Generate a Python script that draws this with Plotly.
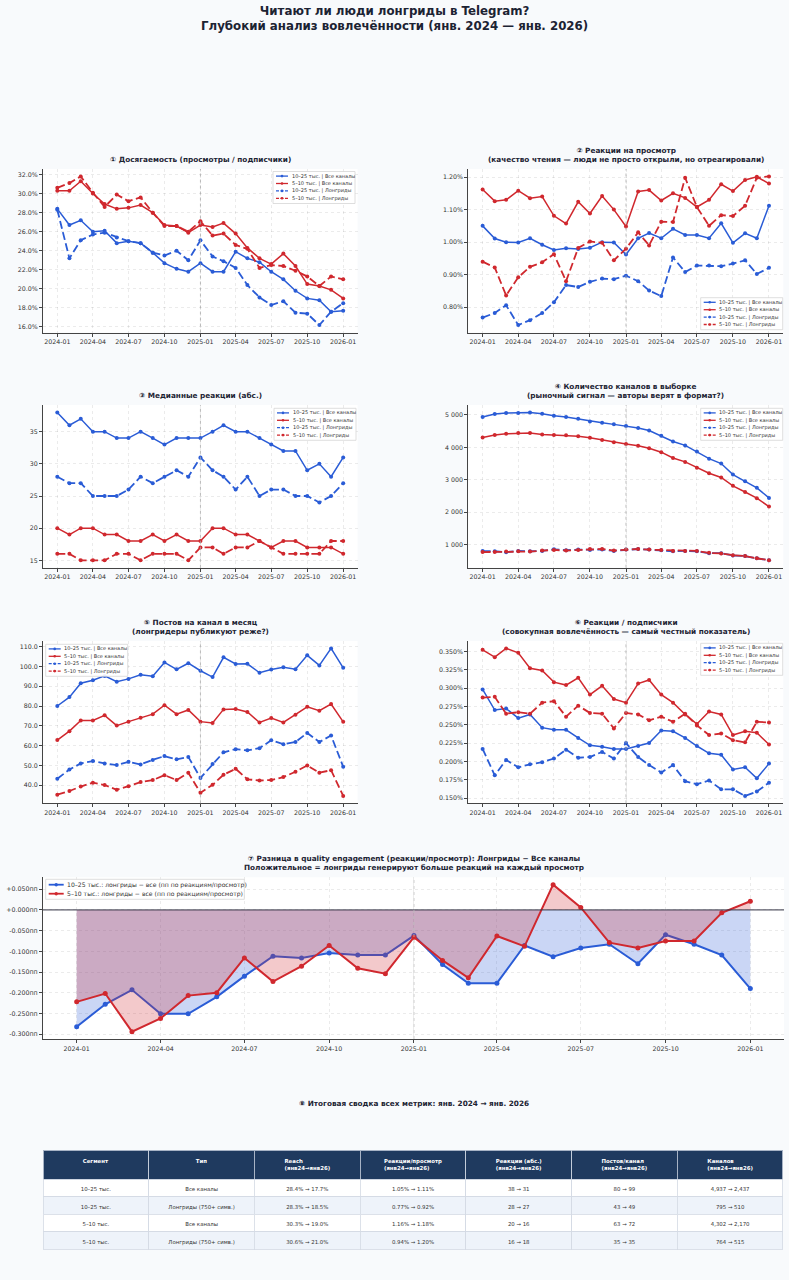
import plotly.graph_objects as go

W, H = 789, 1280

months = [f"{2024 + i // 12}-{i % 12 + 1:02d}-01" for i in range(25)]

names = ["10–25 тыс. | Все каналы", "5–10 тыс. | Все каналы",
         "10–25 тыс. | Лонгриды", "5–10 тыс. | Лонгриды"]

# ① reach, % (views / subscribers)
reach_big_all = [28.4, 26.7, 27.2, 26.0, 26.1, 24.8, 25.0, 24.8, 23.8, 22.7, 22.1, 21.8, 22.7,
                 21.8, 21.8, 23.9, 23.2, 22.8, 21.8, 21.0, 19.8, 19.0, 18.8, 17.6, 17.7]
reach_small_all = [30.3, 30.3, 31.3, 30.0, 28.9, 28.4, 28.5, 28.8, 28.0, 26.7, 26.6, 25.9, 26.7,
                   26.5, 26.9, 25.8, 24.3, 23.2, 22.6, 23.7, 22.4, 20.5, 20.3, 19.9, 19.0]
reach_big_long = [28.3, 23.2, 25.1, 25.7, 25.9, 25.4, 25.0, 24.8, 23.8, 23.5, 24.0, 23.0, 25.1,
                  23.4, 22.9, 22.2, 20.4, 19.1, 18.3, 18.7, 17.5, 17.4, 16.2, 17.6, 18.5]
reach_small_long = [30.6, 31.1, 31.8, 30.1, 28.6, 29.9, 29.2, 29.6, 28.0, 26.6, 26.6, 26.0, 27.1,
                    25.6, 25.8, 24.6, 24.2, 22.2, 22.5, 22.4, 21.9, 21.3, 20.3, 21.3, 21.0]

# ② reactions per view, %
rpv_big_all = [1.050, 1.011, 1.000, 0.999, 1.012, 0.992, 0.976, 0.981, 0.979, 0.983, 1.000, 0.999, 0.962,
               1.012, 1.028, 1.012, 1.041, 1.022, 1.022, 1.012, 1.058, 0.998, 1.027, 1.012, 1.112]
rpv_small_all = [1.162, 1.126, 1.130, 1.158, 1.135, 1.140, 1.081, 1.057, 1.124, 1.088, 1.142, 1.100, 1.048,
                 1.156, 1.160, 1.128, 1.150, 1.136, 1.108, 1.130, 1.178, 1.157, 1.191, 1.201, 1.180]
rpv_big_long = [0.768, 0.782, 0.806, 0.745, 0.760, 0.782, 0.815, 0.868, 0.862, 0.878, 0.888, 0.886, 0.897,
                0.880, 0.851, 0.834, 0.953, 0.908, 0.928, 0.928, 0.926, 0.934, 0.944, 0.902, 0.921]
rpv_small_long = [0.940, 0.922, 0.836, 0.892, 0.924, 0.938, 0.963, 0.880, 0.982, 1.002, 0.998, 0.944, 0.980,
                  1.030, 0.990, 1.063, 1.062, 1.198, 1.108, 1.050, 1.083, 1.080, 1.112, 1.198, 1.202]

# ③ median reactions
med_big_all = [38, 36, 37, 35, 35, 34, 34, 35, 34, 33, 34, 34, 34, 35, 36, 35, 35, 34, 33, 32, 32, 29, 30, 28, 31]
med_small_all = [20, 19, 20, 20, 19, 19, 18, 18, 19, 18, 19, 18, 18, 20, 20, 19, 19, 18, 17, 18, 18, 17, 17, 17, 16]
med_big_long = [28, 27, 27, 25, 25, 25, 26, 28, 27, 28, 29, 28, 31, 29, 28, 26, 28, 25, 26, 26, 25, 25, 24, 25, 27]
med_small_long = [16, 16, 15, 15, 15, 16, 16, 15, 16, 16, 16, 15, 17, 17, 16, 17, 17, 18, 17, 16, 16, 16, 16, 18, 18]

# ④ channels in sample
ch_big_all = [4937, 5030, 5060, 5065, 5080, 5040, 4975, 4940, 4880, 4800, 4760, 4710, 4660,
              4600, 4520, 4360, 4180, 4060, 3870, 3650, 3500, 3160, 2950, 2750, 2437]
ch_small_all = [4302, 4380, 4420, 4440, 4440, 4400, 4380, 4370, 4340, 4300, 4230, 4160, 4100,
                4050, 3970, 3850, 3670, 3550, 3370, 3200, 3070, 2810, 2620, 2430, 2170]
ch_big_long = [795, 790, 760, 800, 790, 800, 850, 820, 840, 830, 840, 800, 840,
               860, 840, 820, 790, 800, 790, 730, 730, 660, 640, 570, 510]
ch_small_long = [764, 770, 780, 790, 780, 810, 830, 810, 830, 860, 860, 810, 840,
                 860, 840, 830, 800, 800, 800, 740, 720, 670, 640, 570, 515]

# ⑤ posts per channel per month
posts_big_all = [80.0, 84.5, 91.5, 93.0, 95.2, 92.3, 93.7, 95.8, 95.0, 102.0, 98.5, 101.6, 97.8,
                 94.6, 104.6, 101.2, 101.3, 96.8, 98.4, 99.6, 98.6, 105.6, 100.5, 109.1, 99.3]
posts_small_all = [62.8, 67.3, 72.7, 72.7, 75.3, 70.1, 72.1, 74.1, 75.9, 80.4, 75.9, 78.0, 72.1,
                   71.4, 78.3, 78.5, 77.0, 71.7, 73.9, 71.7, 75.6, 79.6, 77.6, 81.0, 72.0]
posts_big_long = [43.3, 47.9, 51.0, 52.2, 51.0, 50.2, 51.8, 50.5, 52.8, 54.7, 53.1, 54.3, 43.7,
                  50.7, 56.6, 58.2, 57.6, 58.7, 62.7, 60.7, 61.8, 66.4, 61.8, 65.1, 49.3]
posts_small_long = [35.2, 37.1, 39.3, 41.3, 40.1, 37.7, 39.5, 41.6, 42.6, 45.1, 42.6, 46.3, 36.2,
                    40.2, 45.3, 48.3, 43.0, 42.4, 42.6, 44.1, 46.8, 50.0, 46.3, 47.6, 34.6]

# ⑥ reactions / subscribers, %
rps_big_all = [0.298, 0.270, 0.272, 0.259, 0.264, 0.246, 0.243, 0.243, 0.232, 0.222, 0.220, 0.217, 0.217,
               0.221, 0.225, 0.242, 0.241, 0.232, 0.221, 0.211, 0.209, 0.189, 0.192, 0.177, 0.197]
rps_small_all = [0.352, 0.342, 0.354, 0.348, 0.327, 0.324, 0.308, 0.304, 0.314, 0.291, 0.303, 0.285, 0.280,
                 0.306, 0.311, 0.291, 0.280, 0.264, 0.251, 0.268, 0.264, 0.236, 0.241, 0.239, 0.223]
rps_big_long = [0.217, 0.181, 0.202, 0.192, 0.196, 0.199, 0.204, 0.216, 0.205, 0.206, 0.213, 0.204, 0.225,
                0.206, 0.195, 0.185, 0.195, 0.173, 0.169, 0.174, 0.162, 0.162, 0.153, 0.159, 0.171]
rps_small_long = [0.287, 0.288, 0.265, 0.267, 0.265, 0.280, 0.282, 0.261, 0.276, 0.266, 0.265, 0.245, 0.266,
                  0.264, 0.256, 0.261, 0.254, 0.265, 0.249, 0.236, 0.238, 0.229, 0.226, 0.254, 0.253]

# ⑦ longreads minus all, pp of reactions/view
diff_big = [-0.282, -0.228, -0.193, -0.251, -0.251, -0.210, -0.160, -0.112, -0.116, -0.104, -0.109, -0.109, -0.062,
            -0.132, -0.177, -0.177, -0.086, -0.113, -0.092, -0.083, -0.130, -0.060, -0.083, -0.109, -0.190]
diff_small = [-0.222, -0.202, -0.294, -0.262, -0.207, -0.200, -0.116, -0.173, -0.136, -0.086, -0.141, -0.154, -0.066,
              -0.122, -0.164, -0.063, -0.088, 0.061, 0.006, -0.079, -0.092, -0.075, -0.075, -0.007, 0.021]
diff_ticks = [-0.30, -0.25, -0.20, -0.15, -0.10, -0.05, 0.00, 0.05]
diff_tick_labels = ["-0.300пп", "-0.250пп", "-0.200пп", "-0.150пп", "-0.100пп", "-0.050пп", "+0.000пп", "+0.050пп"]

seg_labels = ["10–25 тыс.", "10–25 тыс.", "5–10 тыс.", "5–10 тыс."]
type_labels = ["Все каналы", "Лонгриды (750+ симв.)", "Все каналы", "Лонгриды (750+ симв.)"]
table_headers = ["Сегмент", "Тип", "Reach<br>(янв24→янв26)", "Реакции/просмотр<br>(янв24→янв26)",
                 "Реакции (абс.)<br>(янв24→янв26)", "Постов/канал<br>(янв24→янв26)", "Каналов<br>(янв24→янв26)"]

BLUE = "#2A5CD6"
RED = "#D0282E"
BLUE_F = "rgba(42,92,214,0.25)"
RED_F = "rgba(208,40,46,0.25)"
AX = "#444444"
TXT = "#1C2333"
GRID = "rgba(0,0,0,0.08)"
FONT = "DejaVu Sans"
TF = dict(family=FONT, size=6.3, color="#333333")
BG = "#F8FAFC"

XR = ["2023-11-25 11:00", "2026-02-06 13:00"]


def px(x):
    return x / W


def py(y):
    return 1 - y / H


def rng(*arrs):
    lo = min(min(a) for a in arrs)
    hi = max(max(a) for a in arrs)
    pad = (hi - lo) * 0.05
    return [lo - pad, hi + pad]


fig = go.Figure()

# pixel boxes of each axes: left, right, top, bottom
boxes = {
    1: (43, 357.5, 169, 332.5),
    2: (468.3, 783.3, 169, 332.5),
    3: (43, 357.5, 405, 567.7),
    4: (468.3, 783.3, 405, 567.7),
    5: (43, 357.5, 641, 803.3),
    6: (468.3, 783.3, 641, 803.3),
    7: (43, 784, 877.3, 1039),
}

panels = [
    (1, [reach_big_all, reach_small_all, reach_big_long, reach_small_long],
     dict(dtick=2, tickformat=".1f", ticksuffix="%"),
     "<b>① Досягаемость (просмотры / подписчики)</b>"),
    (2, [rpv_big_all, rpv_small_all, rpv_big_long, rpv_small_long],
     dict(dtick=0.1, tickformat=".2f", ticksuffix="%"),
     "<b>② Реакции на просмотр</b><br><b>(качество чтения — люди не просто открыли, но отреагировали)</b>"),
    (3, [med_big_all, med_small_all, med_big_long, med_small_long],
     dict(dtick=5, tickformat="d"),
     "<b>③ Медианные реакции (абс.)</b>"),
    (4, [ch_big_all, ch_small_all, ch_big_long, ch_small_long],
     dict(dtick=1000, tickformat=",d"),
     "<b>④ Количество каналов в выборке</b><br><b>(рыночный сигнал — авторы верят в формат?)</b>"),
    (5, [posts_big_all, posts_small_all, posts_big_long, posts_small_long],
     dict(dtick=10, tickformat=".1f"),
     "<b>⑤ Постов на канал в месяц</b><br><b>(лонгридеры публикуют реже?)</b>"),
    (6, [rps_big_all, rps_small_all, rps_big_long, rps_small_long],
     dict(dtick=0.025, tickformat=".3f", ticksuffix="%"),
     "<b>⑥ Реакции / подписчики</b><br><b>(совокупная вовлечённость — самый честный показатель)</b>"),
]

styles = [(BLUE, "solid", 1.5), (RED, "solid", 1.5), (BLUE, "8px,3.5px", 1.8), (RED, "8px,3.5px", 1.8)]

layout_axes = {}


def axis_pair(k, yrange, yextra):
    l, r, t, b = boxes[k]
    sfx = "" if k == 1 else str(k)
    layout_axes["xaxis" + sfx] = dict(
        domain=[px(l), px(r)], anchor="y" + sfx, type="date", range=XR,
        tick0="2024-01-01", dtick="M3", tickformat="%Y-%m", automargin=False,
        showline=True, linecolor=AX, linewidth=1, ticks="outside", ticklen=3,
        tickwidth=0.8, tickcolor=AX, tickfont=TF, showgrid=True, gridcolor=GRID,
        griddash="dot", gridwidth=0.7, zeroline=False, fixedrange=True)
    ya = dict(
        domain=[py(b), py(t)], anchor="x" + sfx, range=yrange, automargin=False,
        showline=True, linecolor=AX, linewidth=1, ticks="outside", ticklen=3,
        tickwidth=0.8, tickcolor=AX, tickfont=TF, showgrid=True, gridcolor=GRID,
        griddash="dot", gridwidth=0.7, zeroline=False, fixedrange=True)
    ya.update(yextra)
    layout_axes["yaxis" + sfx] = ya
    return "x" + sfx, "y" + sfx


for k, series, yextra, title in panels:
    xr, yr = axis_pair(k, rng(*series), yextra)
    for s, nm, (c, d, w) in zip(series, names, styles):
        fig.add_trace(go.Scatter(x=months, y=s, name=nm, mode="lines+markers", xaxis=xr, yaxis=yr,
                                 line=dict(color=c, width=w, dash=d),
                                 marker=dict(color=c, size=4), showlegend=False))
    l, r, t, b = boxes[k]
    fig.add_shape(type="line", xref=xr, yref=yr + " domain", x0="2025-01-01", x1="2025-01-01",
                  y0=0, y1=1, line=dict(color="#A8A8A8", width=0.8, dash="dot"))
    fig.add_annotation(x=px((l + r) / 2), y=py(t - 3), xref="paper", yref="paper", text=title,
                       showarrow=False, xanchor="center", yanchor="bottom",
                       font=dict(family=FONT, size=7.3, color=TXT))

# ⑦ difference panel
xr7, yr7 = axis_pair(7, rng(diff_big, diff_small),
                     dict(tickmode="array", tickvals=diff_ticks, ticktext=diff_tick_labels))
diff_names = ["10–25 тыс.: лонгриды − все (пп по реакциям/просмотр)",
              "5–10 тыс.: лонгриды − все (пп по реакциям/просмотр)"]
for s, nm, c, f in [(diff_big, diff_names[0], BLUE, BLUE_F), (diff_small, diff_names[1], RED, RED_F)]:
    fig.add_trace(go.Scatter(x=months, y=s, name=nm, mode="lines+markers", xaxis=xr7, yaxis=yr7,
                             fill="tozeroy", fillcolor=f, line=dict(color=c, width=2),
                             marker=dict(color=c, size=5), showlegend=False))
fig.add_shape(type="line", xref=xr7 + " domain", yref=yr7, x0=0, x1=1, y0=0, y1=0,
              line=dict(color="#333344", width=1))
fig.add_shape(type="line", xref=xr7, yref=yr7 + " domain", x0="2025-01-01", x1="2025-01-01",
              y0=0, y1=1, line=dict(color="#BBBBBB", width=0.8, dash="dot"))
l7, r7, t7, b7 = boxes[7]
fig.add_annotation(x=px((l7 + r7) / 2), y=py(t7 - 3), xref="paper", yref="paper",
                   text="<b>⑦ Разница в quality engagement (реакции/просмотр): Лонгриды − Все каналы</b><br>"
                        "<b>Положительное = лонгриды генерируют больше реакций на каждый просмотр</b>",
                   showarrow=False, xanchor="center", yanchor="bottom",
                   font=dict(family=FONT, size=7.3, color=TXT))


def add_legend(x0, y0, w, h, first, step, hlen, toff, fs, lw, ms, entries):
    fig.add_shape(type="rect", xref="paper", yref="paper", x0=px(x0), x1=px(x0 + w),
                  y0=py(y0 + h), y1=py(y0), line=dict(color="#D6D6D6", width=0.8),
                  fillcolor="rgba(255,255,255,0.92)", layer="above")
    for i, (c, d, label) in enumerate(entries):
        yc = y0 + first + step * i
        hx0, hx1 = x0 + 3, x0 + 3 + hlen
        fig.add_shape(type="line", xref="paper", yref="paper", x0=px(hx0), x1=px(hx1),
                      y0=py(yc), y1=py(yc), line=dict(color=c, width=lw, dash=d), layer="above")
        xm = (hx0 + hx1) / 2
        fig.add_shape(type="circle", xref="paper", yref="paper", x0=px(xm - ms), x1=px(xm + ms),
                      y0=py(yc + ms), y1=py(yc - ms), fillcolor=c, line=dict(color=c, width=0),
                      layer="above")
        fig.add_annotation(x=px(x0 + toff), y=py(yc), xref="paper", yref="paper", text=label,
                           showarrow=False, xanchor="left", yanchor="middle",
                           font=dict(family=FONT, size=fs, color="#333333"))


small_entries = [(BLUE, "solid", names[0]), (RED, "solid", names[1]),
                 (BLUE, "3px,1.5px", names[2]), (RED, "3px,1.5px", names[3])]
for (lx, ly) in [(273, 171.5), (700.7, 297.7), (274, 408.3), (700.7, 408.3), (45.7, 644.3), (700.7, 643.3)]:
    add_legend(lx, ly, 82, 32, 4.6, 7.4, 12, 16.5, 5.0, 1.3, 1.3, small_entries)

add_legend(45.7, 879.3, 198.6, 20, 5.4, 9, 15, 19.5, 6.1, 1.8, 1.7,
           [(BLUE, "solid", diff_names[0]), (RED, "solid", diff_names[1])])

# ⑧ summary table
groups = [
    (reach_big_all, rpv_big_all, med_big_all, posts_big_all, ch_big_all),
    (reach_big_long, rpv_big_long, med_big_long, posts_big_long, ch_big_long),
    (reach_small_all, rpv_small_all, med_small_all, posts_small_all, ch_small_all),
    (reach_small_long, rpv_small_long, med_small_long, posts_small_long, ch_small_long),
]
col_reach = [f"{g[0][0]:.1f}% → {g[0][-1]:.1f}%" for g in groups]
col_rpv = [f"{g[1][0]:.2f}% → {g[1][-1]:.2f}%" for g in groups]
col_med = [f"{g[2][0]} → {g[2][-1]}" for g in groups]
col_posts = [f"{g[3][0]:.0f} → {g[3][-1]:.0f}" for g in groups]
col_ch = [f"{g[4][0]:,} → {g[4][-1]:,}" for g in groups]

row_fill = ["#FFFFFF", "#EEF3FA", "#FFFFFF", "#EEF3FA"]
fig.add_trace(go.Table(
    domain=dict(x=[px(43), px(784)], y=[0.0, py(1150)]),
    columnwidth=[1] * 7,
    header=dict(values=[f"<b>{h}</b>" for h in table_headers], fill_color="#1F3A5F",
                line=dict(color="#C9D2DE", width=0.8), align="center", height=17.4,
                font=dict(family=FONT, size=5.4, color="white")),
    cells=dict(values=[seg_labels, type_labels, col_reach, col_rpv, col_med, col_posts, col_ch],
               fill_color=[row_fill] * 7, line=dict(color="#D3DAE4", width=0.8),
               align="center", height=17.5, font=dict(family=FONT, size=5.4, color="#333333")),
))
fig.add_annotation(x=px(413.5), y=py(1103), xref="paper", yref="paper",
                   text="<b>⑧ Итоговая сводка всех метрик: янв. 2024 → янв. 2026</b>",
                   showarrow=False, xanchor="center", yanchor="middle",
                   font=dict(family=FONT, size=7.3, color=TXT))

fig.add_annotation(x=0.5, y=py(2), xref="paper", yref="paper",
                   text="<b>Читают ли люди лонгриды в Telegram?</b><br>"
                        "<b>Глубокий анализ вовлечённости (янв. 2024 — янв. 2026)</b>",
                   showarrow=False, xanchor="center", yanchor="top",
                   font=dict(family=FONT, size=11.8, color=TXT))

fig.update_layout(
    width=W, height=H, margin=dict(l=0, r=0, t=0, b=0, autoexpand=False),
    paper_bgcolor=BG, plot_bgcolor="white",
    separators=". ", showlegend=False,
    font=dict(family=FONT, color="#333333"),
    **layout_axes,
)

# page without default body margin / scrollbar so the figure fills the window
page_css = ("document.body.style.margin='0';document.body.style.overflow='hidden';"
            f"document.body.style.background='{BG}';")
fig.write_html("out.html", post_script=page_css, config={"displayModeBar": False})
